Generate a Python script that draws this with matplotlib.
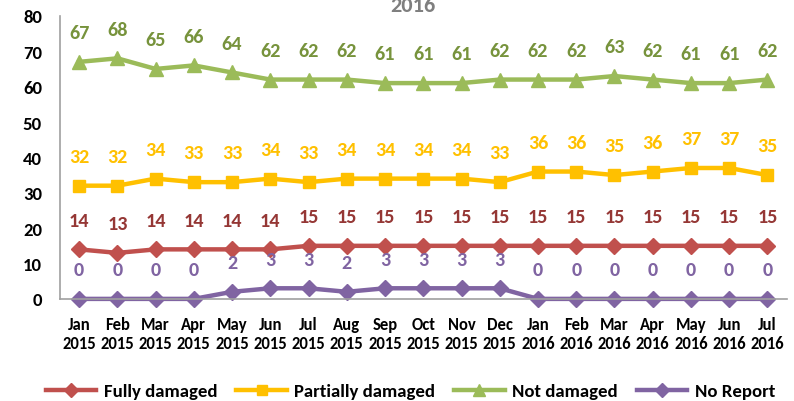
import matplotlib
matplotlib.use('Agg')
import matplotlib.pyplot as plt
import numpy as np

plt.rcParams['font.family'] = ['Carlito', 'Open Sans', 'DejaVu Sans']
plt.rcParams['font.weight'] = 'bold'

months = ['Jan\n2015', 'Feb\n2015', 'Mar\n2015', 'Apr\n2015', 'May\n2015', 'Jun\n2015',
          'Jul\n2015', 'Aug\n2015', 'Sep\n2015', 'Oct\n2015', 'Nov\n2015', 'Dec\n2015',
          'Jan\n2016', 'Feb\n2016', 'Mar\n2016', 'Apr\n2016', 'May\n2016', 'Jun\n2016',
          'Jul\n2016']
fully = [14, 13, 14, 14, 14, 14, 15, 15, 15, 15, 15, 15, 15, 15, 15, 15, 15, 15, 15]
partially = [32, 32, 34, 33, 33, 34, 33, 34, 34, 34, 34, 33, 36, 36, 35, 36, 37, 37, 35]
not_damaged = [67, 68, 65, 66, 64, 62, 62, 62, 61, 61, 61, 62, 62, 62, 63, 62, 61, 61, 62]
no_report = [0, 0, 0, 0, 2, 3, 3, 2, 3, 3, 3, 3, 0, 0, 0, 0, 0, 0, 0]

# name, values, line colour, label colour, marker, marker size
series = [
    ('Fully damaged', fully, '#C0504D', '#953735', 'D', 8),
    ('Partially damaged', partially, '#FFC000', '#FFC000', 's', 9),
    ('Not damaged', not_damaged, '#9BBB59', '#77933C', '^', 10),
    ('No Report', no_report, '#8064A2', '#8064A2', 'D', 8),
]

fig = plt.figure(figsize=(7.94, 4.02), dpi=100)
ax = fig.add_axes([0.0756, 0.254, 0.915, 0.704])
x = np.arange(len(months))

for name, vals, col, lcol, mk, ms in series:
    ax.plot(x, vals, color=col, linewidth=3.2, marker=mk, markersize=ms, label=name,
            clip_on=False)
    for xi, v in zip(x, vals):
        ax.annotate(str(v), (xi, v), xytext=(0, 21), textcoords='offset points',
                    ha='center', va='center', fontsize=14.5, fontweight='bold', color=lcol)

ax.set_xlim(-0.5, len(months) - 0.5)
ax.set_ylim(0, 80)
ax.set_yticks(range(0, 81, 10))
ax.set_xticks(x)
ax.set_xticklabels(months, fontsize=12, fontweight='bold', linespacing=1.25)
ax.tick_params(axis='y', labelsize=13.5, length=0, pad=13)
ax.tick_params(axis='x', length=0, pad=12)
for s in ['top', 'right']:
    ax.spines[s].set_visible(False)
for s in ['left', 'bottom']:
    ax.spines[s].set_color('#A0A0A0')
    ax.spines[s].set_linewidth(1.2)

# title is mostly cut off at the top edge in the original
fig.text(0.520, 1 - 11.5 / 402, '2016', ha='center', va='baseline', fontsize=16,
         fontweight='bold', color='#7F7F7F')

fig.legend(loc='center', bbox_to_anchor=(0.517, 0.024), ncol=4, frameon=False,
           fontsize=13.5, handlelength=2.7, columnspacing=1.0, handletextpad=0.4,
           markerscale=0.85, borderpad=0)

fig.savefig('out.png', dpi=100)
